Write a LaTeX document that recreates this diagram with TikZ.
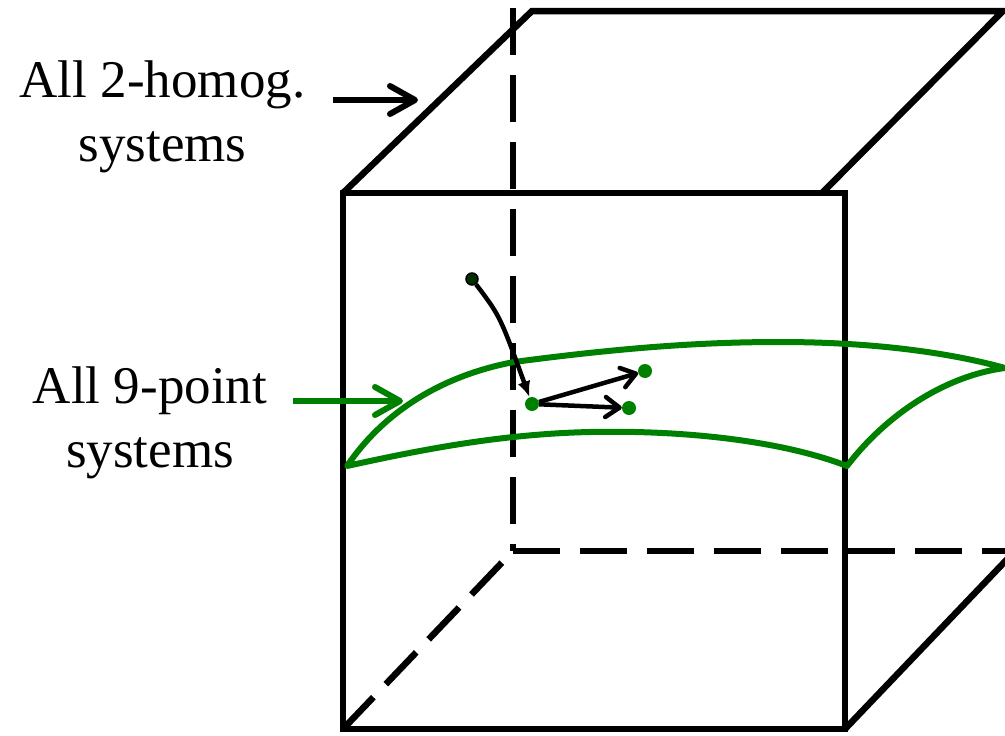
\documentclass[tikz,border=0pt]{standalone}
\usepackage{fontspec}
\setmainfont{Liberation Serif}
\usetikzlibrary{arrows.meta}
\definecolor{sgreen}{RGB}{0,128,0}
\definecolor{dkgreen}{RGB}{0,48,0}
\begin{document}
\begin{tikzpicture}[x=1pt,y=-1pt,
  cube/.style={line width=6.5pt, black},
  hidden/.style={cube, dash pattern=on 47pt off 20pt},
  surf/.style={line width=6pt, sgreen, line join=round},
  lbl/.style={font=\fontsize{53}{64}\selectfont, anchor=base, inner sep=0pt},
  lblarrow/.style={line width=6pt, -{Straight Barb[length=25pt,width=28pt,round]}},
  vec/.style={line width=4.5pt, -{Straight Barb[length=14pt,width=20pt,round]}},
  vecin/.style={line width=4.5pt, -{Latex[length=16pt,width=13pt]}},
  dot/.style={circle, fill=sgreen, inner sep=0pt, minimum size=14pt},
  startdot/.style={circle, fill=dkgreen, draw=black, line width=1.5pt, inner sep=0pt, minimum size=12pt},
]
\useasboundingbox (0,0) rectangle (1005,736);

% cube corners
\coordinate (F1) at (343,193);
\coordinate (F2) at (845,193);
\coordinate (F3) at (845,729);
\coordinate (F4) at (343,729);
\coordinate (B1) at (532,11);
\coordinate (B2) at (1003,11);
\coordinate (B2d) at (822,193);
\coordinate (B1v) at (513,8);
\coordinate (B4) at (513,551);
\coordinate (B3) at (1015,551);

% hidden edges
\draw[hidden] (B1v) -- (B4);
\draw[hidden] (B4) -- (B3);
\draw[cube, dash pattern=on 44pt off 18pt] (F4) -- (B4);
% visible edges
\draw[cube] (F1) rectangle (F3);
\draw[cube] (F1) -- (B1) -- (B2) -- (B2d);
\draw[cube] (F3) -- (B3);

% green surface
\draw[surf] (347,466) .. controls (383,413) and (440,376) .. (514,362)
  .. controls (620,348) and (700,342) .. (780,342)
  .. controls (860,342) and (940,350) .. (1005,368)
  .. controls (950,375) and (890,410) .. (847,466)
  .. controls (780,440) and (680,430) .. (590,432)
  .. controls (500,434) and (420,450) .. cycle;

% labels
\node[lbl] (t1) at (162.5,97) {All 2-homog.};
\node[lbl] (t2) at (162.5,161) {systems};
\node[lbl] (t3) at (150,403) {All 9-point};
\node[lbl] (t4) at (150,467) {systems};

\coordinate (a1s) at (333,100);
\coordinate (a1e) at (418,100);
\draw[lblarrow] (a1s) -- (a1e);
\coordinate (a2s) at (293,401);
\coordinate (a2e) at (403,401);
\draw[lblarrow, sgreen] (a2s) -- (a2e);

% points and vectors
\node[startdot] (p0) at (472,279) {};
\node[dot] (p1) at (532,404) {};
\node[dot] (p2) at (645,371) {};
\node[dot] (p3) at (629,408) {};
\draw[vecin] (p0) .. controls (500,316) .. (p1);
\draw[vec] (p1) -- (p2);
\draw[vec] (p1) -- (p3);
\end{tikzpicture}
\end{document}
